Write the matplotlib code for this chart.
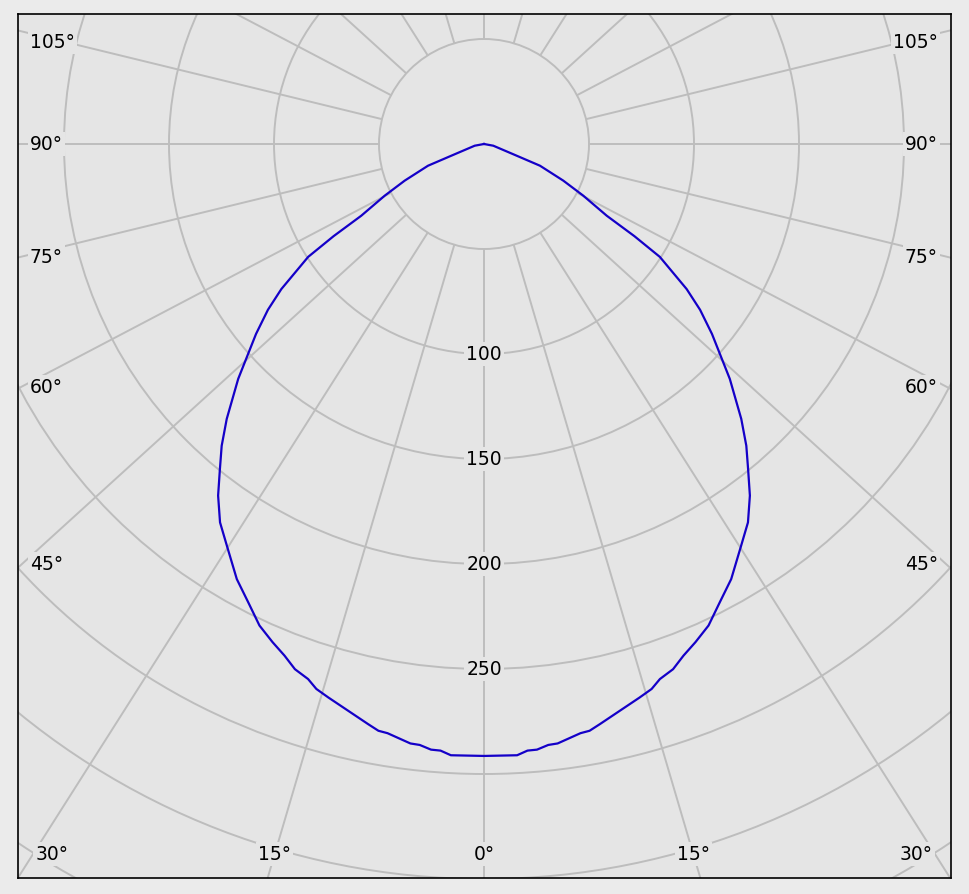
import numpy as np
import matplotlib
matplotlib.use("Agg")
import matplotlib.pyplot as plt
from matplotlib.patches import Circle

# ---- data ----
angles_deg = [0.0, 3.1, 4.1, 5.0, 6.1, 7.0, 9.3, 10.2, 11.3, 15.7, 17.1, 18.2,
              19.8, 21.3, 23.0, 25.0, 27.2, 29.6, 32.6, 34.9, 37.1, 39.1, 41.0,
              43.1, 46.3, 50.2, 52.5, 54.4, 57.3, 58.5, 59.7, 62.5, 65.2, 68.8,
              70.3, 79.6, 90.0]
intensity = [291.4, 291.5, 289.6, 289.5, 287.8, 287.6, 284.3, 283.9, 281.7, 273.8,
             271.5, 268.2, 265.8, 261.5, 257.7, 253.0, 245.5, 238.3, 227.2, 219.7,
             209.9, 199.4, 190.4, 179.3, 161.9, 141.3, 129.7, 118.7, 99.5, 84.0,
             67.7, 53.3, 41.6, 28.6, 16.5, 4.5, 0.0]
ring_values = [50, 100, 150, 200, 250, 300, 350, 400, 450]
ring_labels = ["100", "150", "200", "250"]
ring_label_values = [100, 150, 200, 250]
spoke_step = 15
side_label_angles = [45, 60, 75, 90, 105]
bottom_label_angles = [0, 15, 30]

# ---- styling ----
FIG_BG = "#ebebeb"
AX_BG = "#e5e5e5"
GRID = "#bdbdbd"
CURVE = "#1400c8"
KX = 1.1          # horizontal stretch used for the spoke directions
SCALE = 2.1       # pixels per unit
CX, CY = 484, 145 # centre in pixels

def dx(px):
    return (px - CX) / SCALE

def dy(py):
    return (CY - py) / SCALE

fig = plt.figure(figsize=(9.69, 8.95), dpi=100, facecolor=FIG_BG)
ax = fig.add_axes([18 / 969, (895 - 879) / 895, 933 / 969, 864 / 895])
ax.set_facecolor(AX_BG)
ax.set_xlim(dx(18), dx(951))
ax.set_ylim(dy(879), dy(15))
ax.set_xticks([])
ax.set_yticks([])
for s in ax.spines.values():
    s.set_color("black")
    s.set_linewidth(1.2)

# rings
for r in ring_values:
    ax.add_patch(Circle((0, 0), r, fill=False, ec=GRID, lw=1.4, zorder=1))

# spokes
for a in range(0, 360, spoke_step):
    phi = np.radians(a)
    d = np.array([KX * np.sin(phi), -np.cos(phi)])
    d = d / np.hypot(*d)
    ax.plot([50 * d[0], 1500 * d[0]], [50 * d[1], 1500 * d[1]],
            color=GRID, lw=1.4, zorder=1, solid_capstyle="butt")

# curve (symmetric C-plane)
th = np.radians(angles_deg)
r = np.array(intensity)
th_full = np.concatenate([-th[::-1], th[1:]])
r_full = np.concatenate([r[::-1], r[1:]])
ax.plot(r_full * np.sin(th_full), -r_full * np.cos(th_full),
        color=CURVE, lw=1.6, zorder=4, solid_joinstyle="round")

box = dict(boxstyle="square,pad=0.12", fc=AX_BG, ec="none")
FS = 13.5

# ring labels
for lab, v in zip(ring_labels, ring_label_values):
    ax.text(0, -v, lab, ha="center", va="center", fontsize=FS,
            bbox=box, zorder=3)

# side angle labels
y_top = dy(43)
x_edge = (CX - 22) / SCALE
for a in side_label_angles:
    phi = np.radians(a)
    t = x_edge / (KX * np.sin(phi))
    y = min(-np.cos(phi) * t, y_top)
    ax.text(dx(30), y, f"{a}°", ha="left", va="center", fontsize=FS,
            bbox=box, zorder=3)
    ax.text(dx(938), y, f"{a}°", ha="right", va="center", fontsize=FS,
            bbox=box, zorder=3)

# bottom angle labels
y_b = dy(855)
x_max = dx(916)
for a in bottom_label_angles:
    phi = np.radians(a)
    x = min(KX * np.tan(phi) * (-y_b), x_max)
    sides = [1] if a == 0 else [-1, 1]
    for s in sides:
        ax.text(s * x, y_b, f"{a}°", ha="center", va="center", fontsize=FS,
                bbox=box, zorder=3)

fig.savefig("out.png", dpi=100, facecolor=FIG_BG)
